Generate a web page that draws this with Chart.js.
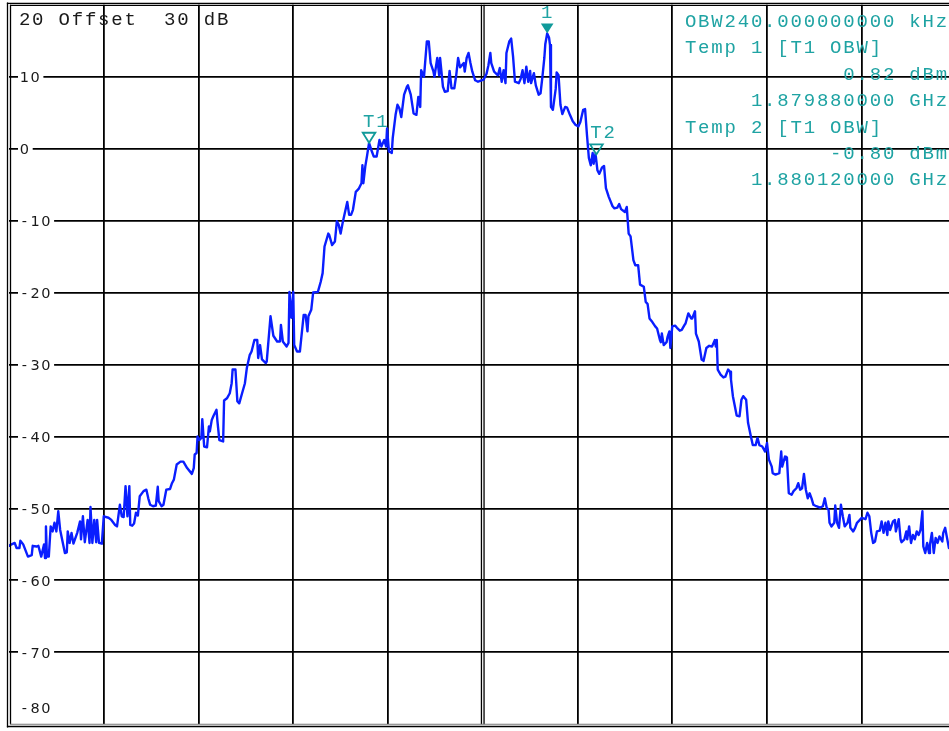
<!DOCTYPE html>
<html><head><meta charset="utf-8">
<script src="https://cdn.jsdelivr.net/npm/chart.js@4/dist/chart.umd.min.js"></script>
<style>html,body{margin:0;padding:0;background:#fff;overflow:hidden;width:949px;height:731px}canvas{display:block}</style>
</head><body>
<canvas id="c" width="960" height="731"></canvas>
<script>
// frequency offset from 1.88 GHz centre, kHz
const freqKHz = [
-500,-499,-494,-492,-489,-488,-485,-480,-476,-475,
-471,-469,-466,-463,-462,-461,-460,-458,-456,-454,
-452,-450,-448,-446,-441,-439,-438,-436,-434,-432,
-428,-425,-424,-422,-420,-417,-415,-414,-412,-410,
-408,-407,-405,-402,-400,-395,-392,-388,-386,-383,
-381,-379,-377,-375,-373,-372,-370,-368,-366,-364,
-362,-358,-355,-353,-351,-348,-345,-343,-342,-339,
-337,-334,-330,-328,-326,-323,-319,-316,-312,-307,
-305,-304,-302,-301,-299,-297,-296,-294,-291,-289,
-288,-286,-284,-281,-280,-278,-274,-273,-270,-267,
-265,-264,-261,-259,-257,-254,-251,-249,-246,-244,
-241,-238,-237,-235,-233,-229,-228,-224,-221,-217,
-214,-213,-211,-207,-205,-204,-202,-200,-199,-196,
-193,-189,-187,-185,-184,-181,-179,-174,-171,-169,
-167,-163,-162,-159,-156,-154,-152,-150,-148,-146,
-143,-141,-139,-137,-134,-131,-128,-127,-126,-124,
-122,-120,-117,-115,-112,-109,-107,-104,-102,-101,
-99,-96,-95,-92,-90,-88,-86,-83,-80,-79,
-76,-73,-70,-68,-66,-65,-62,-59,-57,-55,
-52,-51,-48,-46,-45,-42,-40,-37,-35,-33,
-30,-28,-26,-24,-20,-19,-17,-15,-13,-11,
-8,-5,1,4,6,8,9,12,16,18,
20,22,24,25,28,30,32,34,38,40,
42,44,46,48,50,51,54,56,59,61,
63,65,66,68,70,71,72,74,77,78,
80,82,84,87,89,92,95,98,101,103,
106,108,110,112,114,116,117,119,121,123,
126,128,130,133,137,139,142,144,146,150,
152,154,156,159,161,164,166,170,172,174,
176,179,182,184,187,188,189,191,194,195,
197,198,200,203,205,208,210,213,214,217,
220,221,224,225,228,231,233,236,239,242,
245,246,247,248,251,254,256,259,261,262,
264,268,271,273,275,278,280,283,285,288,
290,292,295,298,300,302,305,306,309,313,
315,316,319,320,321,323,326,328,331,333,
335,337,339,341,343,345,347,349,352,356,
359,361,363,365,366,368,371,372,374,376,
378,380,382,385,387,388,391,393,395,398,
400,404,406,408,410,412,414,416,419,421,
423,425,427,428,430,433,435,436,439,441,
442,445,447,448,450,452,454,456,458,460,
462,464,465,467,469,471,472,474,476,478,
480,482,485,486,488,490,492,495,498,500
];
// trace level, dBm
const levelDbm = [
-55.2,-55.1,-54.8,-55.5,-55.5,-54.5,-55.0,-56.7,-56.5,-55.2,
-55.3,-55.2,-56.7,-55.0,-56.9,-52.5,-56.7,-56.7,-52.5,-53.2,
-52.0,-53.2,-50.4,-53.0,-56.2,-56.1,-53.2,-54.8,-53.4,-54.9,
-53.4,-51.8,-54.3,-51.1,-54.7,-51.6,-54.8,-49.8,-54.8,-51.6,
-54.7,-51.6,-54.8,-54.9,-51.1,-51.3,-51.6,-52.3,-52.5,-49.5,
-51.1,-51.2,-46.9,-51.1,-46.9,-52.3,-52.4,-52.1,-50.6,-51.0,
-48.3,-47.6,-47.4,-48.6,-49.5,-49.7,-49.6,-47.0,-49.0,-49.7,
-49.5,-47.4,-47.3,-46.5,-46.0,-43.9,-43.5,-43.5,-44.4,-45.2,
-44.4,-42.5,-42.3,-40.0,-40.5,-40.2,-37.6,-41.4,-41.5,-38.6,
-39.3,-37.7,-37.1,-36.3,-37.9,-40.5,-40.7,-35.0,-34.7,-34.0,
-32.6,-30.7,-30.7,-35.1,-35.4,-34.0,-32.6,-30.5,-28.7,-28.2,
-26.6,-26.6,-29.1,-27.3,-29.3,-29.8,-29.6,-23.3,-26.0,-26.8,
-26.8,-24.5,-26.8,-27.5,-27.0,-19.9,-23.5,-19.9,-27.3,-28.2,
-28.2,-23.1,-23.1,-25.4,-23.3,-22.4,-20.0,-19.9,-18.5,-17.3,
-13.6,-11.8,-12.0,-13.4,-12.9,-10.1,-10.6,-11.8,-10.4,-9.2,
-7.4,-9.2,-9.2,-8.5,-6.0,-5.6,-4.8,-2.3,-4.8,-2.5,
-0.9,0.8,-0.4,-1.1,-1.1,1.2,0.3,1.2,0.3,2.8,
-0.4,-0.6,1.5,4.7,6.1,5.6,4.4,7.5,8.6,8.8,
7.5,4.9,4.7,7.2,5.8,10.9,10.0,14.9,14.9,11.9,
10.7,10.0,12.6,10.2,12.6,8.6,7.9,8.0,10.8,8.4,
8.4,10.2,12.6,11.3,11.9,10.7,12.6,13.3,11.9,10.7,
9.5,9.3,9.6,10.4,11.6,13.3,11.9,10.7,10.2,11.2,
9.3,10.9,9.1,13.3,14.9,15.3,12.8,9.3,9.1,9.7,
10.9,9.1,11.4,9.3,10.8,9.1,10.5,8.8,7.5,7.7,
10.0,12.6,14.5,16.0,15.4,14.4,5.8,5.4,8.3,10.6,
10.2,6.1,4.8,5.8,5.7,4.7,3.8,3.3,3.1,3.7,
5.4,5.5,1.9,-1.3,-2.3,-0.6,-2.1,-0.7,-3.0,-3.5,
-2.6,-2.4,-5.5,-6.7,-8.0,-8.3,-8.2,-7.7,-8.4,-8.8,
-8.1,-11.8,-12.2,-15.5,-16.2,-16.2,-18.9,-19.2,-21.3,-21.6,
-23.6,-24.1,-24.7,-25.0,-26.6,-26.9,-25.7,-27.3,-26.9,-26.2,
-25.4,-27.7,-24.7,-24.6,-24.9,-25.3,-25.2,-24.5,-24.3,-22.9,
-23.6,-23.6,-22.6,-25.7,-26.8,-29.3,-29.5,-27.7,-27.4,-27.5,
-26.6,-27.5,-26.6,-30.7,-31.4,-31.8,-31.7,-30.7,-31.0,-32.1,
-34.4,-37.1,-37.2,-34.9,-34.4,-34.9,-38.1,-40.0,-41.2,-41.2,
-40.2,-41.2,-41.4,-42.1,-40.9,-43.2,-44.2,-45.1,-45.3,-45.1,
-42.1,-44.2,-42.8,-43.2,-42.9,-47.9,-48.1,-47.6,-47.2,-46.5,
-47.4,-47.2,-45.2,-47.4,-48.6,-47.9,-48.6,-49.5,-49.7,-49.9,
-49.7,-48.6,-49.9,-50.2,-52.0,-52.5,-52.0,-49.6,-52.0,-52.7,
-49.5,-51.1,-52.5,-52.0,-50.9,-52.7,-53.2,-52.7,-52.0,-51.6,
-51.3,-51.5,-50.6,-51.1,-53.4,-54.8,-54.6,-53.2,-53.1,-51.8,
-53.4,-52.0,-53.7,-51.8,-53.0,-51.8,-51.6,-53.2,-51.5,-54.3,
-54.7,-54.3,-53.2,-54.3,-52.5,-54.8,-53.7,-54.3,-53.2,-53.7,
-53.0,-50.4,-55.3,-56.2,-54.8,-56.2,-55.0,-53.4,-56.2,-54.1,
-54.8,-53.9,-54.6,-53.4,-52.7,-54.1,-55.5,-55.1,-55.3,-55.0
];
const yTickValues = [20,10,0,-10,-20,-30,-40,-50,-60,-70,-80];
const yTickLabels = ['20','10','0','-10','-20','-30','-40','-50','-60','-70','-80'];
const headerText = 'Offset  30 dB';
const markerLabels = ['1','T1','T2'];
const markerFreqKHz = [68,-120,120];
const markerLevelDbm = [16.0,0.82,-0.80];
const markerFilled = [true,false,false];
const infoLines = ['OBW240.000000000 kHz','Temp 1 [T1 OBW]','0.82 dBm','1.879880000 GHz','Temp 2 [T1 OBW]','-0.80 dBm','1.880120000 GHz'];
const infoAlign = ['left','left','right','right','left','right','right'];

const MONO = '19px "Liberation Mono", "Courier New", monospace';
const MONO_ADV = 13.2;
const SANS = '14.5px "DejaVu Sans", sans-serif';
const SANS_ADV = 10.7;
const TEAL = '#1fa3a3';
const TEAL_MARK = '#109a9a';

function drawCells(ctx, text, x0, cy, font, adv, color, half) {
  ctx.font = font; ctx.fillStyle = color;
  ctx.textAlign = 'center'; ctx.textBaseline = 'alphabetic';
  for (let i = 0; i < text.length; i++) {
    const ch = text[i];
    if (ch !== ' ') ctx.fillText(ch, x0 + adv * (i + 0.5), cy + half);
  }
}
function line(ctx, x1, y1, x2, y2, w, c) {
  ctx.strokeStyle = c; ctx.lineWidth = w;
  ctx.beginPath(); ctx.moveTo(x1, y1); ctx.lineTo(x2, y2); ctx.stroke();
}

const overlay = {
  id: 'overlay',
  beforeDatasetsDraw(chart) {
    const ctx = chart.ctx, xs = chart.scales.x, ys = chart.scales.y, a = chart.chartArea;
    ctx.save();
    const cx = xs.getPixelForValue(0);
    line(ctx, cx - 1.3, a.top, cx - 1.3, a.bottom, 1.3, '#000');
    line(ctx, cx + 1.3, a.top, cx + 1.3, a.bottom, 1.3, '#000');
    yTickValues.forEach((v, i) => {
      if (i === 0) return;
      let py = ys.getPixelForValue(v);
      const last = i === yTickValues.length - 1;
      if (last) py -= 16;
      const lbl = yTickLabels[i];
      if (!last) { ctx.fillStyle = '#fff'; ctx.fillRect(18, py - 7, lbl.length * SANS_ADV + 4, 14); }
      drawCells(ctx, lbl, 19, py, SANS, SANS_ADV, '#1a1a1a', 5.2);
    });
    drawCells(ctx, yTickLabels[0] + ' ' + headerText, 18, ys.getPixelForValue(yTickValues[0]) + 14.5, MONO, MONO_ADV, '#1a1a1a', 6);
    ctx.restore();
  },
  afterDatasetsDraw(chart) {
    const ctx = chart.ctx, xs = chart.scales.x, ys = chart.scales.y, a = chart.chartArea;
    ctx.save();
    markerLabels.forEach((lbl, i) => {
      const px = xs.getPixelForValue(markerFreqKHz[i]);
      const py = ys.getPixelForValue(markerLevelDbm[i]);
      ctx.beginPath();
      ctx.moveTo(px, py); ctx.lineTo(px - 6.3, py - 10); ctx.lineTo(px + 6.3, py - 10); ctx.closePath();
      if (markerFilled[i]) { ctx.fillStyle = TEAL_MARK; ctx.fill(); }
      else { ctx.strokeStyle = TEAL_MARK; ctx.lineWidth = 1.8; ctx.stroke(); }
      drawCells(ctx, lbl, px - 7, py - 22, MONO, MONO_ADV, TEAL, 6);
    });
    const col0 = 684, colEnd = 684 + 20 * MONO_ADV;
    infoLines.forEach((t, i) => {
      const cy = 21 + i * 26.4;
      const x0 = infoAlign[i] === 'left' ? col0 : colEnd - t.length * MONO_ADV;
      drawCells(ctx, t, x0, cy, MONO, MONO_ADV, TEAL, 6);
    });
    line(ctx, 7.5, 2.5, 7.5, 727.5, 1.3, '#000');
    line(ctx, 10.5, a.top, 10.5, a.bottom, 1.3, '#000');
    line(ctx, 6.9, 3.4, 960, 3.4, 1.4, '#000');
    line(ctx, 10, 5.3, 960, 5.3, 1.3, '#000');
    line(ctx, 10, a.bottom, 960, a.bottom, 1.1, '#777');
    line(ctx, 6.9, 726.5, 960, 726.5, 1.7, '#000');
    ctx.restore();
  }
};

const gridColor = (edgeVals) => (c) => (c.tick && edgeVals.includes(c.tick.value)) ? 'rgba(0,0,0,0)' : '#000';

new Chart(document.getElementById('c'), {
  type: 'line',
  data: {
    datasets: [{
      data: freqKHz.map((f, i) => ({ x: f, y: levelDbm[i] })),
      borderColor: 'rgb(10,30,255)',
      borderWidth: 2.4,
      borderJoinStyle: 'round',
      pointRadius: 0,
      tension: 0,
      fill: false
    }]
  },
  options: {
    responsive: false,
    animation: false,
    events: [],
    layout: { padding: { left: 9, top: 4.75, right: 3.5, bottom: 6.75 } },
    plugins: { legend: { display: false }, tooltip: { enabled: false } },
    scales: {
      x: {
        type: 'linear', min: -500, max: 500,
        ticks: { display: false, stepSize: 100 },
        grid: { drawTicks: false, color: gridColor([-500, 0, 500]), lineWidth: 1.8 },
        border: { display: false },
        afterFit: (s) => { s.height = 0; }
      },
      y: {
        type: 'linear', min: -80, max: 20,
        ticks: { display: false, stepSize: 10 },
        grid: { drawTicks: false, color: gridColor([20, -80]), lineWidth: 1.8 },
        border: { display: false },
        afterFit: (s) => { s.width = 0; }
      }
    }
  },
  plugins: [overlay]
});
</script>
</body></html>
